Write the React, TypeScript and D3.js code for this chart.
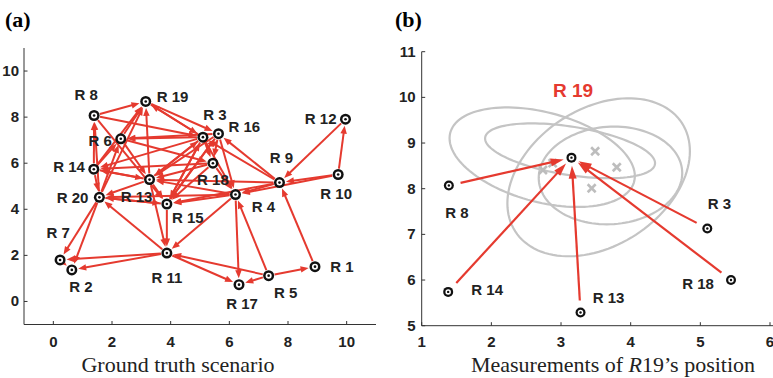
import React from "react";
import * as d3 from "d3";

// robot ground-truth positions (index 0 = R 1)
const robotNames = ["R 1","R 2","R 3","R 4","R 5","R 6","R 7","R 8","R 9","R 10","R 11","R 12","R 13","R 14","R 15","R 16","R 17","R 18","R 19","R 20"];
const robotX = [8.92, 0.63, 5.10, 6.21, 7.34, 2.30, 0.23, 1.39, 7.71, 9.71, 3.87, 9.96, 3.28, 1.38, 3.87, 5.63, 6.33, 5.44, 3.15, 1.57];
const robotY = [1.51, 1.37, 7.13, 4.64, 1.12, 7.06, 1.80, 8.07, 5.16, 5.51, 2.10, 7.91, 5.29, 5.74, 4.23, 7.28, 0.73, 6.00, 8.68, 4.52];

// measurement links [from, to] (robot numbers)
const links: [number, number][] = [
  [20, 7], [20, 2], [11, 7], [11, 2], [7, 2], [11, 20], [15, 11], [13, 11], [4, 11],
  [11, 17], [5, 11], [5, 17], [5, 1], [4, 17], [5, 4], [1, 9],
  [10, 12], [12, 9], [10, 9], [9, 4], [10, 4],
  [9, 16], [9, 3], [9, 13], [9, 15], [4, 15], [3, 4], [16, 4], [18, 4],
  [19, 3], [3, 19], [19, 16], [3, 6], [6, 18], [8, 3], [8, 19], [14, 8], [20, 8],
  [14, 20], [14, 19], [20, 19], [20, 6], [13, 19], [6, 13], [8, 15], [14, 13], [13, 14],
  [13, 20], [20, 15], [3, 14], [6, 19], [3, 13], [16, 13], [18, 13], [15, 16], [15, 3],
  [13, 3], [3, 15], [16, 15], [18, 15], [16, 18], [3, 18], [13, 15], [4, 13], [15, 20],
  [14, 6], [18, 14], [16, 6], [4, 20]
];

// panel (b): neighbours measuring R 19
const focusRobot = 19;
const observers = [8, 14, 13, 18, 3];
const measX = [3.49, 3.80, 3.44, 2.74, 2.88];
const measY = [8.82, 8.47, 8.01, 8.41, 8.56];
// uncertainty ellipses: centre, sigma x, sigma y, correlation
const ellCx = [2.73, 3.13, 3.54, 3.71];
const ellCy = [8.69, 8.83, 8.25, 8.29];
const ellSx = [1.33, 1.22, 1.31, 1.03];
const ellSy = [1.09, 0.60, 1.73, 1.07];
const ellRho = [-0.38, -0.45, 0.33, 0.05];

const ticksAx = [0, 2, 4, 6, 8, 10];
const ticksAy = [0, 2, 4, 6, 8, 10];
const ticksBx = [1, 2, 3, 4, 5, 6];
const ticksBy = [5, 6, 7, 8, 9, 10, 11];

const RED = "#e53a2f";
const GREY = "#c4c4c4";
const AXIS = "#333";
const SANS = "'Liberation Sans', Arial, Helvetica, sans-serif";
const SERIF = "'Liberation Serif', 'Times New Roman', serif";

// label offsets (px) for panel (a): dx, dy, anchor
const labA: Record<number, [number, number, string]> = {
  1: [27, 0, "middle"], 2: [9, 17, "middle"], 3: [12, -23, "middle"], 4: [28, 12, "middle"],
  5: [17, 17, "middle"], 6: [-9, 2, "end"], 7: [-2, -27, "middle"], 8: [-8, -21, "middle"],
  9: [2, -25, "middle"], 10: [-2, 19, "middle"], 11: [0, 24, "middle"], 12: [-9, -1, "end"],
  13: [-13, 17, "middle"], 14: [-9, -3, "end"], 15: [21, 14, "middle"], 16: [10, -7, "start"],
  17: [3, 19, "middle"], 18: [0, 16, "middle"], 19: [11, -5, "start"], 20: [-11, 0, "end"]
};
const labB: Record<number, [number, number, string]> = {
  8: [8, 27, "middle"], 3: [12, -25, "middle"], 14: [39, -2, "middle"],
  13: [28, -15, "middle"], 18: [-33, 3, "middle"]
};

function arrowGeom(x1: number, y1: number, x2: number, y2: number, g0: number, g1: number, hl: number, hw: number) {
  const dx = x2 - x1, dy = y2 - y1;
  const L = Math.hypot(dx, dy);
  const ux = dx / L, uy = dy / L;
  const sx = x1 + ux * g0, sy = y1 + uy * g0;
  const tx = x2 - ux * g1, ty = y2 - uy * g1;
  const bx = tx - ux * hl, by = ty - uy * hl;
  const px = -uy, py = ux;
  const head = `${tx},${ty} ${bx + px * hw / 2},${by + py * hw / 2} ${bx - px * hw / 2},${by - py * hw / 2}`;
  return { sx, sy, ex: bx + ux * 1, ey: by + uy * 1, head };
}

function Node({ x, y, r }: { x: number; y: number; r: number }) {
  return (
    <g>
      <circle cx={x} cy={y} r={r} fill="#111" />
      <circle cx={x} cy={y} r={r * 0.55} fill="#fff" />
      <circle cx={x} cy={y} r={r * 0.24} fill="#111" />
    </g>
  );
}

export default function App() {
  const xA = d3.scaleLinear().domain([-1, 11]).range([24, 376]);
  const yA = d3.scaleLinear().domain([-1, 11]).range([324.5, 48]);
  const xB = d3.scaleLinear().domain([1, 6]).range([421.7, 770]);
  const yB = d3.scaleLinear().domain([5, 11]).range([325.7, 51.7]);

  const posA = (n: number) => [xA(robotX[n - 1]), yA(robotY[n - 1])];
  const posB = (n: number) => [xB(robotX[n - 1]), yB(robotY[n - 1])];

  const ellLine = d3.line<[number, number]>().curve(d3.curveLinearClosed);
  const ellipses = ellCx.map((cx, i) => {
    const pts: [number, number][] = d3.range(0, 120).map((k) => {
      const t = (k / 120) * Math.PI * 2;
      const x = cx + ellSx[i] * Math.cos(t);
      const y = ellCy[i] + ellSy[i] * (ellRho[i] * Math.cos(t) + Math.sqrt(1 - ellRho[i] ** 2) * Math.sin(t));
      return [xB(x), yB(y)];
    });
    return ellLine(pts) as string;
  });

  const tickLen = 3.5;

  return (
    <svg width={773} height={378} style={{ position: "absolute", left: 0, top: 0, background: "#fff" }}>
      {/* panel titles */}
      <text x={5} y={27} fontFamily={SERIF} fontWeight="bold" fontSize={22}>(a)</text>
      <text x={395} y={27} fontFamily={SERIF} fontWeight="bold" fontSize={22}>(b)</text>

      {/* ---------- panel (a) ---------- */}
      <g>
        <line x1={xA(-1)} x2={xA(-1)} y1={yA(-1)} y2={yA(11)} stroke={AXIS} strokeWidth={1} />
        <line x1={xA(-1)} x2={xA(11)} y1={yA(-1)} y2={yA(-1)} stroke={AXIS} strokeWidth={1} />
        {ticksAy.map((t) => (
          <g key={"ay" + t}>
            <line x1={xA(-1)} x2={xA(-1) + tickLen} y1={yA(t)} y2={yA(t)} stroke={AXIS} />
            <text x={xA(-1) - 5} y={yA(t) + 5} textAnchor="end" fontFamily={SANS} fontWeight="bold" fontSize={15} fill="#222">{t}</text>
          </g>
        ))}
        {ticksAx.map((t) => (
          <g key={"ax" + t}>
            <line x1={xA(t)} x2={xA(t)} y1={yA(-1)} y2={yA(-1) - tickLen} stroke={AXIS} />
            <text x={xA(t)} y={yA(-1) + 22} textAnchor="middle" fontFamily={SANS} fontWeight="bold" fontSize={15} fill="#222">{t}</text>
          </g>
        ))}
        <text x={178} y={372} textAnchor="middle" fontFamily={SERIF} fontSize={22} fill="#222">Ground truth scenario</text>

        {links.map(([a, b], i) => {
          const [x1, y1] = posA(a);
          const [x2, y2] = posA(b);
          const g = arrowGeom(x1, y1, x2, y2, 6, 6.5, 8, 6.5);
          return (
            <g key={"l" + i}>
              <line x1={g.sx} y1={g.sy} x2={g.ex} y2={g.ey} stroke={RED} strokeWidth={2} />
              <polygon points={g.head} fill={RED} />
            </g>
          );
        })}
        {robotNames.map((name, i) => {
          const [x, y] = posA(i + 1);
          const [dx, dy, anchor] = labA[i + 1];
          return (
            <g key={"na" + i}>
              <Node x={x} y={y} r={5.5} />
              <text x={x + dx} y={y + dy + 5.5} textAnchor={anchor as any} fontFamily={SANS} fontWeight="bold" fontSize={15} fill="#222">{name}</text>
            </g>
          );
        })}
      </g>

      {/* ---------- panel (b) ---------- */}
      <g>
        <line x1={xB(1)} x2={xB(1)} y1={yB(5)} y2={yB(11)} stroke={AXIS} strokeWidth={1} />
        <line x1={xB(1)} x2={773} y1={yB(5)} y2={yB(5)} stroke={AXIS} strokeWidth={1} />
        {ticksBy.map((t) => (
          <g key={"by" + t}>
            <line x1={xB(1)} x2={xB(1) + tickLen} y1={yB(t)} y2={yB(t)} stroke={AXIS} />
            <text x={xB(1) - 6} y={yB(t) + 5} textAnchor="end" fontFamily={SANS} fontWeight="bold" fontSize={15} fill="#222">{t}</text>
          </g>
        ))}
        {ticksBx.map((t) => (
          <g key={"bx" + t}>
            <line x1={xB(t)} x2={xB(t)} y1={yB(5)} y2={yB(5) - tickLen} stroke={AXIS} />
            <text x={xB(t)} y={yB(5) + 21} textAnchor="middle" fontFamily={SANS} fontWeight="bold" fontSize={15} fill="#222">{t}</text>
          </g>
        ))}
        <text x={613} y={372} textAnchor="middle" fontFamily={SERIF} fontSize={22} fill="#222">
          Measurements of <tspan fontStyle="italic">R</tspan>19’s position
        </text>

        {ellipses.map((d, i) => (
          <path key={"e" + i} d={d} fill="none" stroke={GREY} strokeWidth={2.2} />
        ))}
        {measX.map((mx, i) => {
          const x = xB(mx), y = yB(measY[i]);
          const s = 4;
          return (
            <g key={"m" + i} stroke="#bdbdbd" strokeWidth={2.6}>
              <line x1={x - s} y1={y - s} x2={x + s} y2={y + s} />
              <line x1={x - s} y1={y + s} x2={x + s} y2={y - s} />
            </g>
          );
        })}
        {observers.map((n) => {
          const [x1, y1] = posB(n);
          const [x2, y2] = posB(focusRobot);
          const g = arrowGeom(x1, y1, x2, y2, 12, 8, 13, 8);
          return (
            <g key={"ob" + n}>
              <line x1={g.sx} y1={g.sy} x2={g.ex} y2={g.ey} stroke={RED} strokeWidth={2.2} />
              <polygon points={g.head} fill={RED} />
            </g>
          );
        })}
        {observers.map((n) => {
          const [x, y] = posB(n);
          const [dx, dy, anchor] = labB[n];
          return (
            <g key={"nb" + n}>
              <Node x={x} y={y} r={5} />
              <text x={x + dx} y={y + dy + 5.5} textAnchor={anchor as any} fontFamily={SANS} fontWeight="bold" fontSize={15} fill="#222">{robotNames[n - 1]}</text>
            </g>
          );
        })}
        <Node x={posB(focusRobot)[0]} y={posB(focusRobot)[1]} r={5} />
        <text x={573} y={97} textAnchor="middle" fontFamily={SANS} fontWeight="bold" fontSize={19} fill={RED}>{robotNames[focusRobot - 1]}</text>
      </g>
    </svg>
  );
}
